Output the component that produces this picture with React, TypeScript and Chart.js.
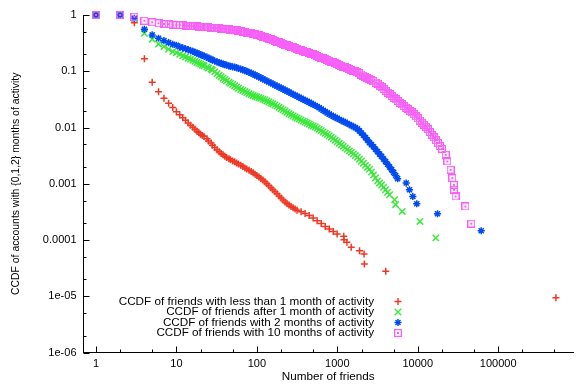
import React, { useEffect, useRef } from 'react';
import { Chart, registerables } from 'chart.js';

Chart.register(...registerables);

// ---- axis ticks ----
const xTickValues = [1, 10, 100, 1000, 10000, 100000];
const xTickLabels = ['1', '10', '100', '1000', '10000', '100000'];
const yTickValues = [1, 0.1, 0.01, 0.001, 0.0001, 0.00001, 0.000001];
const yTickLabels = ['1', '0.1', '0.01', '0.001', '0.0001', '1e-05', '1e-06'];

const xAxisTitle = 'Number of friends';
const yAxisTitle = 'CCDF of accounts with {0,1,2} months of activity';

// ---- series labels ----
const seriesLabels = [
  'CCDF of friends with less than 1 month of activity',
  'CCDF of friends after 1 month of activity',
  'CCDF of friends with 2 months of activity',
  'CCDF of friends with 10 months of activity',
];

// ---- friend counts shared by the dense part of the three upper series ----
const sharedFriends = [
  1, 2, 3, 4, 5, 6, 7, 8, 9, 10, 11, 12,
  13, 14, 15, 16, 17, 18, 19, 20, 21, 22,
  24, 25, 27, 28, 30, 32, 34, 36, 38, 40,
  42, 45, 47, 50, 53, 56, 59, 63, 67, 71,
  75, 80, 85, 90, 95, 100, 106, 112, 119, 126,
  133, 141, 150, 158, 168, 178, 189, 200, 212, 224,
  237, 251, 266, 282, 299, 316, 335, 355, 376, 398,
  422, 447, 473, 501, 531, 562, 596, 631, 668, 708,
  750, 794, 841, 891, 944, 1000, 1059, 1122, 1189, 1259,
  1334, 1413, 1496, 1585, 1679, 1778, 1884, 1995, 2113, 2239,
  2371, 2512, 2661, 2818, 2985, 3162, 3350, 3548, 3758, 3981,
  4217, 4467,
];

// ---- series: less than 1 month ----
const lessThan1Friends = [
  1, 2, 3, 4, 5, 6, 7, 8, 9, 10, 11, 12,
  13, 14, 15, 16, 17, 18, 19, 20, 21, 22,
  24, 25, 27, 28, 30, 32, 34, 36, 38, 40,
  42, 45, 47, 50, 53, 56, 59, 63, 67, 71,
  75, 80, 85, 90, 95, 100, 106, 112, 119, 126,
  133, 141, 150, 158, 168, 178, 189, 200, 212, 224,
  237, 251, 266, 282, 299, 316,
  355, 398, 447, 501, 562, 631, 708, 794, 891,
  995, 1202, 1210, 1318, 1489, 1890, 2151, 2170, 4003, 522000,
];
const lessThan1Ccdf = [
  1, 1, 0.73, 0.166, 0.0636, 0.0433, 0.0331, 0.0271, 0.0226, 0.0191, 0.0169, 0.0149,
  0.0134, 0.012, 0.011, 0.0101, 0.00929, 0.00855, 0.00804, 0.00756, 0.00723, 0.00691,
  0.00629, 0.00573, 0.00528, 0.00486, 0.00441, 0.00401, 0.00372, 0.00346, 0.00327, 0.00309,
  0.00294, 0.00279, 0.00267, 0.00255, 0.00245, 0.00235, 0.00224, 0.00213, 0.00202, 0.00191,
  0.00182, 0.00174, 0.00165, 0.00157, 0.00148, 0.0014, 0.00132, 0.00124, 0.00116, 0.00109,
  0.001, 0.000925, 0.000852, 0.000785, 0.00072, 0.000661, 0.000607, 0.000557, 0.000514, 0.000475,
  0.000447, 0.00042, 0.000396, 0.000373, 0.000355, 0.000338,
  0.000317, 0.000296, 0.000272, 0.000245, 0.000219, 0.000196, 0.000173, 0.000157, 0.000141,
  0.000128, 0.000116, 0.000101, 0.0000908, 0.000074, 0.0000647, 0.0000565, 0.0000375, 0.0000277, 0.0000094,
];

// ---- series: after 1 month ----
const after1TailFriends = [5164, 5310, 6412, 10660, 16760];
const after1Ccdf = [
  1, 1, 0.85, 0.473, 0.371, 0.306, 0.274, 0.246, 0.223, 0.214, 0.2, 0.189,
  0.179, 0.17, 0.163, 0.156, 0.15, 0.144, 0.139, 0.134, 0.129, 0.125,
  0.119, 0.114, 0.109, 0.105, 0.0976, 0.0908, 0.085, 0.0796, 0.0753, 0.0713,
  0.0674, 0.0638, 0.0609, 0.0581, 0.0552, 0.0525, 0.0499, 0.0475, 0.0455, 0.0436,
  0.0417, 0.0399, 0.0385, 0.0371, 0.036, 0.035, 0.0339, 0.0329, 0.0319, 0.0309,
  0.0296, 0.0284, 0.0273, 0.0262, 0.0251, 0.024, 0.0228, 0.0216, 0.0206, 0.0196,
  0.0186, 0.0176, 0.0168, 0.0161, 0.0154, 0.0148, 0.0142, 0.0136, 0.013, 0.0125,
  0.012, 0.0115, 0.011, 0.0106, 0.0102, 0.00975, 0.00926, 0.00879, 0.00834, 0.00791,
  0.00751, 0.00714, 0.00671, 0.00631, 0.00593, 0.00558, 0.00524, 0.00492, 0.00462, 0.00434,
  0.00408, 0.00384, 0.00361, 0.0034, 0.00317, 0.00296, 0.00273, 0.00251, 0.00231, 0.00212,
  0.00195, 0.0018, 0.00161, 0.00144, 0.00127, 0.00112, 0.00103, 0.000952, 0.000863, 0.000782,
  0.000706, 0.000638,
  0.00052, 0.000424, 0.000322, 0.000214, 0.000109,
];

// ---- series: 2 months ----
const with2TailFriends = [4732, 5012, 5309, 5623, 7185, 7889, 8683, 9724, 17590, 61500];
const with2Ccdf = [
  1, 1, 0.874, 0.557, 0.442, 0.386, 0.35, 0.322, 0.302, 0.29, 0.272, 0.261,
  0.251, 0.242, 0.233, 0.225, 0.217, 0.21, 0.203, 0.197, 0.191, 0.186,
  0.178, 0.17, 0.164, 0.158, 0.152, 0.147, 0.142, 0.138, 0.134, 0.131,
  0.128, 0.125, 0.122, 0.12, 0.118, 0.116, 0.112, 0.109, 0.106, 0.103,
  0.0993, 0.0958, 0.0923, 0.089, 0.0857, 0.0826, 0.0793, 0.0762, 0.073, 0.0699,
  0.0671, 0.0644, 0.0618, 0.0593, 0.0568, 0.0544, 0.0522, 0.05, 0.048, 0.0461,
  0.0443, 0.0425, 0.0407, 0.0389, 0.0374, 0.0359, 0.0344, 0.033, 0.0316, 0.0303,
  0.0291, 0.028, 0.0268, 0.0257, 0.0246, 0.0236, 0.0224, 0.0213, 0.0202, 0.0192,
  0.0182, 0.0173, 0.0165, 0.0158, 0.0151, 0.0145, 0.0139, 0.0133, 0.0128, 0.0123,
  0.0118, 0.0113, 0.0108, 0.0104, 0.00992, 0.00946, 0.0087, 0.008, 0.00727, 0.00661,
  0.00597, 0.00539, 0.00495, 0.00454, 0.00411, 0.00372, 0.00337, 0.00306, 0.00275, 0.00248,
  0.00222, 0.00199,
  0.00178, 0.00159, 0.0014, 0.00123, 0.00103, 0.000782, 0.000594, 0.000441, 0.000293, 0.000146,
];

// ---- series: 10 months ----
const with10TailFriends = [
  4732, 5012, 5309, 5623, 5957, 6310, 6683, 7079, 7499, 7943, 8414, 8913, 9441,
  10000, 10593, 11220, 11885, 12589, 13335, 14125, 14962, 15849, 16788, 17783, 18836, 19953,
  22250, 23350, 25620, 26870, 28130, 28200, 29510, 39100, 46320,
];
const with10Ccdf = [
  1, 1, 0.933, 0.792, 0.742, 0.712, 0.692, 0.684, 0.673, 0.667, 0.662, 0.653,
  0.647, 0.641, 0.637, 0.633, 0.629, 0.625, 0.621, 0.618, 0.614, 0.61,
  0.605, 0.6, 0.596, 0.593, 0.588, 0.583, 0.578, 0.574, 0.569, 0.564,
  0.558, 0.553, 0.547, 0.542, 0.536, 0.531, 0.523, 0.516, 0.506, 0.497,
  0.488, 0.479, 0.47, 0.461, 0.454, 0.447, 0.436, 0.426, 0.413, 0.4,
  0.389, 0.378, 0.367, 0.357, 0.346, 0.336, 0.326, 0.316, 0.307, 0.298,
  0.29, 0.282, 0.274, 0.266, 0.258, 0.251, 0.243, 0.236, 0.229, 0.223,
  0.217, 0.211, 0.205, 0.199, 0.193, 0.187, 0.181, 0.175, 0.169, 0.164,
  0.159, 0.154, 0.149, 0.144, 0.139, 0.134, 0.129, 0.125, 0.121, 0.117,
  0.113, 0.11, 0.106, 0.103, 0.0993, 0.0957, 0.0915, 0.0875, 0.0835, 0.0797,
  0.0762, 0.0728, 0.0695, 0.0663, 0.063, 0.0598, 0.0557, 0.0519, 0.0483, 0.045,
  0.0419, 0.0391,
  0.0364, 0.0339, 0.0316, 0.0295, 0.0276, 0.0258, 0.0241, 0.0226, 0.0212, 0.0199, 0.0185, 0.0172, 0.0158,
  0.0145, 0.0133, 0.0122, 0.0113, 0.0104, 0.00931, 0.00834, 0.00745, 0.00666, 0.00592, 0.00526, 0.00469, 0.00418,
  0.00327, 0.00249, 0.00177, 0.00126, 0.000959, 0.000782, 0.000594, 0.000395, 0.000195,
];

const COLORS = ['rgb(240,55,35)', 'rgb(60,232,60)', 'rgb(0,75,240)', 'rgb(248,95,248)'];
const FONT = '"Liberation Sans", Arial, Helvetica, sans-serif';

const X_MIN = 0.708;
const X_MAX = 851000;
const Y_MIN = 0.000001;
const Y_MAX = 1;

function makeBoxDot(color: string) {
  const c = document.createElement('canvas');
  c.width = 8;
  c.height = 8;
  const g = c.getContext('2d')!;
  g.strokeStyle = color;
  g.lineWidth = 1.3;
  g.strokeRect(0.6, 0.6, 6.8, 6.8);
  g.fillStyle = color;
  g.fillRect(3, 3, 2, 2);
  return c;
}

function labelFor(values: number[], labels: string[], v: number) {
  const i = values.findIndex((t) => Math.abs(Math.log10(t) - Math.log10(v)) < 1e-6);
  return i >= 0 ? labels[i] : '';
}

function drawMarker(ctx: CanvasRenderingContext2D, idx: number, x: number, y: number, box: HTMLCanvasElement) {
  ctx.save();
  ctx.strokeStyle = COLORS[idx];
  ctx.lineWidth = 1.4;
  ctx.beginPath();
  if (idx === 0) {
    ctx.moveTo(x - 3.5, y); ctx.lineTo(x + 3.5, y);
    ctx.moveTo(x, y - 3.5); ctx.lineTo(x, y + 3.5);
  } else if (idx === 1) {
    ctx.moveTo(x - 3.2, y - 3.2); ctx.lineTo(x + 3.2, y + 3.2);
    ctx.moveTo(x - 3.2, y + 3.2); ctx.lineTo(x + 3.2, y - 3.2);
  } else if (idx === 2) {
    ctx.moveTo(x - 3.5, y); ctx.lineTo(x + 3.5, y);
    ctx.moveTo(x, y - 3.5); ctx.lineTo(x, y + 3.5);
    ctx.moveTo(x - 2.5, y - 2.5); ctx.lineTo(x + 2.5, y + 2.5);
    ctx.moveTo(x - 2.5, y + 2.5); ctx.lineTo(x + 2.5, y - 2.5);
  }
  ctx.stroke();
  if (idx === 3) ctx.drawImage(box, x - box.width / 2, y - box.height / 2);
  ctx.restore();
}

export default function App() {
  const ref = useRef<HTMLCanvasElement | null>(null);

  useEffect(() => {
    const canvas = ref.current;
    if (!canvas) return;
    const box = makeBoxDot(COLORS[3]);

    const decor = {
      id: 'gnuplotDecor',
      beforeDatasetsDraw(chart: any) {
        const { ctx, chartArea } = chart;
        const xs = chart.scales.x;
        const ys = chart.scales.y;
        ctx.save();
        ctx.strokeStyle = '#000';
        ctx.lineWidth = 1;
        ctx.beginPath();
        for (let d = -1; d <= 6; d++) {
          for (const m of [1, 2, 5]) {
            const v = m * Math.pow(10, d);
            if (v < xs.min || v > xs.max) continue;
            const px = Math.round(xs.getPixelForValue(v)) + 0.5;
            const len = m === 1 ? 6 : 3;
            ctx.moveTo(px, chartArea.bottom);
            ctx.lineTo(px, chartArea.bottom - len);
          }
        }
        for (let d = -7; d <= 0; d++) {
          for (const m of [1, 2, 5]) {
            const v = m * Math.pow(10, d);
            if (v < ys.min * 0.999 || v > ys.max * 1.001) continue;
            const py = Math.round(ys.getPixelForValue(v)) + 0.5;
            const len = m === 1 ? 6 : 3;
            ctx.moveTo(chartArea.left, py);
            ctx.lineTo(chartArea.left + len, py);
          }
        }
        ctx.stroke();
        ctx.restore();
      },
      afterDraw(chart: any) {
        const { ctx, chartArea } = chart;
        ctx.save();
        ctx.font = `11.7px ${FONT}`;
        ctx.fillStyle = '#000';
        ctx.textAlign = 'right';
        ctx.textBaseline = 'middle';
        const textRight = chartArea.left + 290.5;
        const markerX = chartArea.left + 314.5;
        const y0 = chartArea.bottom - 51;
        for (let i = 0; i < seriesLabels.length; i++) {
          const y = y0 + i * 10.5;
          ctx.fillText(seriesLabels[i], textRight, y);
          drawMarker(ctx, i, markerX, y, box);
        }
        ctx.restore();
      },
    };

    const build = (fr: number[], cc: number[]) => cc.map((c, i) => ({ x: fr[i], y: c }));

    const chart = new Chart(canvas, {
      type: 'scatter',
      data: {
        datasets: [
          { label: seriesLabels[0], data: build(lessThan1Friends, lessThan1Ccdf), pointStyle: 'cross', pointRadius: 3.5, borderColor: COLORS[0], backgroundColor: COLORS[0], borderWidth: 1.5, clip: false, order: 4 },
          { label: seriesLabels[1], data: build([...sharedFriends, ...after1TailFriends], after1Ccdf), pointStyle: 'crossRot', pointRadius: 4.5, borderColor: COLORS[1], backgroundColor: COLORS[1], borderWidth: 1.5, clip: false, order: 3 },
          { label: seriesLabels[2], data: build([...sharedFriends, ...with2TailFriends], with2Ccdf), pointStyle: 'star', pointRadius: 3.6, borderColor: COLORS[2], backgroundColor: COLORS[2], borderWidth: 1.5, clip: false, order: 2 },
          { label: seriesLabels[3], data: build([...sharedFriends, ...with10TailFriends], with10Ccdf), pointStyle: box as any, pointRadius: 4, borderColor: COLORS[3], backgroundColor: COLORS[3], borderWidth: 1, clip: false, order: 1 },
        ] as any,
      },
      options: {
        responsive: false,
        animation: false,
        devicePixelRatio: 1,
        events: [],
        layout: { padding: { top: 15, left: 0, right: 0, bottom: 0 } },
        plugins: { legend: { display: false }, tooltip: { enabled: false } },
        scales: {
          x: {
            type: 'logarithmic',
            min: X_MIN,
            max: X_MAX,
            afterFit: (s: any) => { s.height = 32.5; },
            afterBuildTicks: (s: any) => { s.ticks = xTickValues.map((v) => ({ value: v })); },
            ticks: {
              autoSkip: false,
              maxRotation: 0,
              padding: 5,
              color: '#000',
              font: { family: FONT, size: 11 },
              callback: (v: any) => labelFor(xTickValues, xTickLabels, Number(v)),
            },
            grid: { display: false, drawTicks: false },
            border: { display: true, color: '#000', width: 1 },
            title: { display: true, text: xAxisTitle, color: '#000', font: { family: FONT, size: 11.7 }, padding: { top: 0, bottom: 1 } },
          },
          y: {
            type: 'logarithmic',
            min: Y_MIN,
            max: Y_MAX,
            afterFit: (s: any) => { s.width = 83.5; },
            afterBuildTicks: (s: any) => { s.ticks = yTickValues.map((v) => ({ value: v })); },
            ticks: {
              autoSkip: false,
              padding: 7,
              color: '#000',
              font: { family: FONT, size: 11 },
              callback: (v: any) => labelFor(yTickValues, yTickLabels, Number(v)),
            },
            grid: { display: false, drawTicks: false },
            border: { display: true, color: '#000', width: 1 },
            title: { display: true, text: yAxisTitle, color: '#000', font: { family: FONT, size: 10.4 }, padding: { top: 9.5, bottom: 0 } },
          },
        },
      } as any,
      plugins: [decor],
    });
    return () => chart.destroy();
  }, []);

  return (
    <canvas
      ref={ref}
      width={579}
      height={385}
      style={{ position: 'fixed', left: 0, top: 0, width: '579px', height: '385px', background: '#fff' }}
    />
  );
}
